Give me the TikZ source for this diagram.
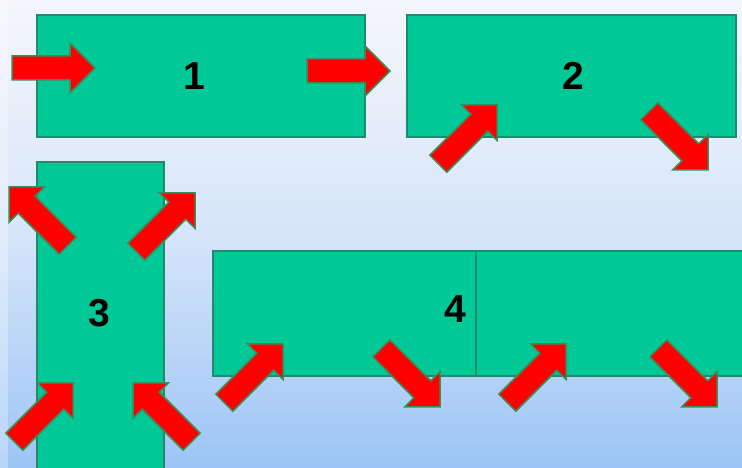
\documentclass[tikz,border=0pt]{standalone}
\usepackage{fontspec}
\setmainfont{Liberation Sans}
\usepackage{tikz}
\definecolor{slidetop}{HTML}{F5F6FB}
\definecolor{slidemid}{HTML}{D6E5F9}
\definecolor{slidebot}{HTML}{9CC5F5}
\definecolor{boxgreen}{HTML}{00C896}
\definecolor{boxedge}{HTML}{1F8A6C}
\definecolor{arrowred}{HTML}{FF0000}
\definecolor{arrowedge}{HTML}{3C8C5A}
\tikzset{
  box/.style={fill=boxgreen, draw=boxedge, line width=1.2pt},
  num/.style={font=\fontsize{39}{39}\selectfont\bfseries, inner sep=0pt},
  redarrow/.pic={\filldraw[fill=arrowred, draw=arrowedge, line width=1.5pt, line join=miter]
    (0,0) -- (-25,25) -- (-25,12) -- (-83,12) -- (-83,-12) -- (-25,-12) -- (-25,-25) -- cycle;}
}

\begin{document}
\begin{tikzpicture}[x=1pt, y=1pt]
  \useasboundingbox (0,0) rectangle (742,468);
  \clip (0,0) rectangle (742,468);
  \shade[top color=slidetop, bottom color=slidebot, middle color=slidemid] (0,0) rectangle (742,468);
  \fill[white, opacity=0.3] (0,0) rectangle (8,468);
  \filldraw[box] (37,331) rectangle (365,453);
  \filldraw[box] (407,331) rectangle (736,453);
  \filldraw[box] (37,-5) rectangle (164,306);
  \filldraw[box] (213,92) rectangle (476,217);
  \filldraw[box] (476,92) rectangle (750,217);
  \node[num] (n1) at (194,392) {1};
  \node[num] (n2) at (573,392) {2};
  \node[num] (n3) at (99,155) {3};
  \node[num] (n4) at (455,159) {4};
  \pic at (95,400) {redarrow};
  \pic at (390,397) {redarrow};
  \pic[rotate=45] at (497,363) {redarrow};
  \pic[rotate=-45] at (708,298) {redarrow};
  \pic[rotate=135] at (9,281) {redarrow};
  \pic[rotate=45] at (195,275) {redarrow};
  \pic[rotate=45] at (73,85) {redarrow};
  \pic[rotate=135] at (133,85) {redarrow};
  \pic[rotate=45] at (283,124) {redarrow};
  \pic[rotate=-45] at (440,61) {redarrow};
  \pic[rotate=45] at (566,124) {redarrow};
  \pic[rotate=-45] at (717,61) {redarrow};
\end{tikzpicture}
\end{document}
